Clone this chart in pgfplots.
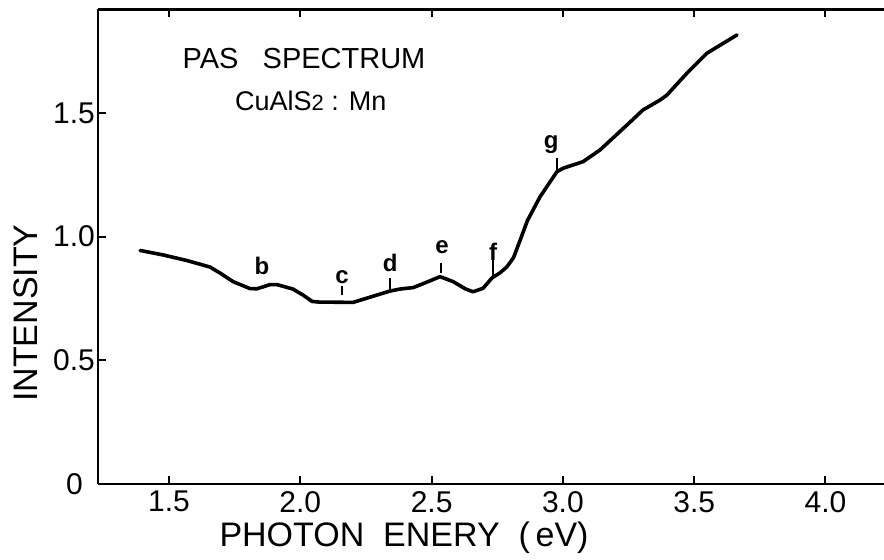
\documentclass[border=0pt]{standalone}
\usepackage{fontspec}
\setmainfont{Liberation Sans}
\usepackage{pgfplots}
\pgfplotsset{compat=1.18}

\begin{document}
\begin{tikzpicture}
\useasboundingbox (-49pt,-38pt) rectangle (393pt,242pt);
\begin{axis}[
    scale only axis, width=393pt, height=237.25pt,
    xmin=1.2296, xmax=4.2228, ymin=0, ymax=1.918,
    axis x line=box, axis y line*=left,
    y axis line style={-}, x axis line style={-},
    axis line style={line width=1.1pt},
    tick align=inside, major tick length=4pt,
    tick style={line width=1pt, black},
    xtick={1.5,2.0,2.5,3.0,3.5,4.0},
    xticklabels={1.5,2.0,2.5,3.0,3.5,4.0},
    ytick={0,0.5,1.0,1.5},
    yticklabels={0\hspace*{6pt},0.5,1.0,1.5},
    ticklabel style={font=\fontsize{15}{15}\selectfont},
    yticklabel style={xshift=2pt},
    clip=false,
]
\addplot[black, line width=1.8pt, line join=round, line cap=round] coordinates {
(1.390,0.944)(1.477,0.926)(1.569,0.903)(1.656,0.877)(1.694,0.853)
(1.744,0.818)(1.808,0.790)(1.835,0.789)(1.885,0.806)(1.911,0.806)
(1.972,0.788)(2.010,0.764)(2.045,0.738)(2.075,0.735)(2.113,0.735)
(2.201,0.734)(2.265,0.755)(2.342,0.780)(2.380,0.788)(2.430,0.794)
(2.480,0.815)(2.532,0.838)(2.582,0.818)(2.630,0.788)(2.658,0.777)
(2.696,0.791)(2.730,0.833)(2.760,0.853)(2.787,0.878)(2.812,0.915)
(2.837,0.985)(2.865,1.065)(2.913,1.161)(2.977,1.262)(3.000,1.276)
(3.077,1.303)(3.141,1.350)(3.244,1.451)(3.305,1.512)(3.370,1.552)
(3.396,1.572)(3.472,1.660)(3.548,1.741)(3.610,1.781)(3.663,1.815)
};
% peak markers
\draw[line width=1pt] (axis cs:2.159,0.764) -- (axis cs:2.159,0.800);
\draw[line width=1pt] (axis cs:2.342,0.786) -- (axis cs:2.342,0.833);
\draw[line width=1pt] (axis cs:2.537,0.853) -- (axis cs:2.537,0.893);
\draw[line width=1pt] (axis cs:2.734,0.837) -- (axis cs:2.734,0.905);
\draw[line width=1pt] (axis cs:2.977,1.269) -- (axis cs:2.977,1.318);
\begin{scope}[every node/.style={font=\fontsize{12}{12}\selectfont\bfseries}]
\node at (axis cs:1.854,0.881) {b};
\node at (axis cs:2.159,0.837) {c};
\node at (axis cs:2.342,0.893) {d};
\node at (axis cs:2.540,0.958) {e};
\node at (axis cs:2.734,0.938) {f};
\node at (axis cs:2.955,1.370) {g};
\end{scope}
\node[anchor=west, font=\fontsize{14.5}{14.5}\selectfont] at (axis cs:1.525,1.72) {PAS\ \ \ SPECTRUM};
\node[anchor=west, font=\fontsize{13.5}{13.5}\selectfont] at (axis cs:1.725,1.55) {CuAlS{\fontsize{11}{11}\selectfont 2} : Mn};
\node[rotate=90, font=\fontsize{17}{17}\selectfont] at (rel axis cs:0,0.36) [yshift=36pt] {INTENSITY};
\node[font=\fontsize{17}{17}\selectfont] at (axis cs:2.395,0) [yshift=-27pt] {PHOTON\ \ ENERY\ \ (\,eV)};
\end{axis}
\end{tikzpicture}
\end{document}
